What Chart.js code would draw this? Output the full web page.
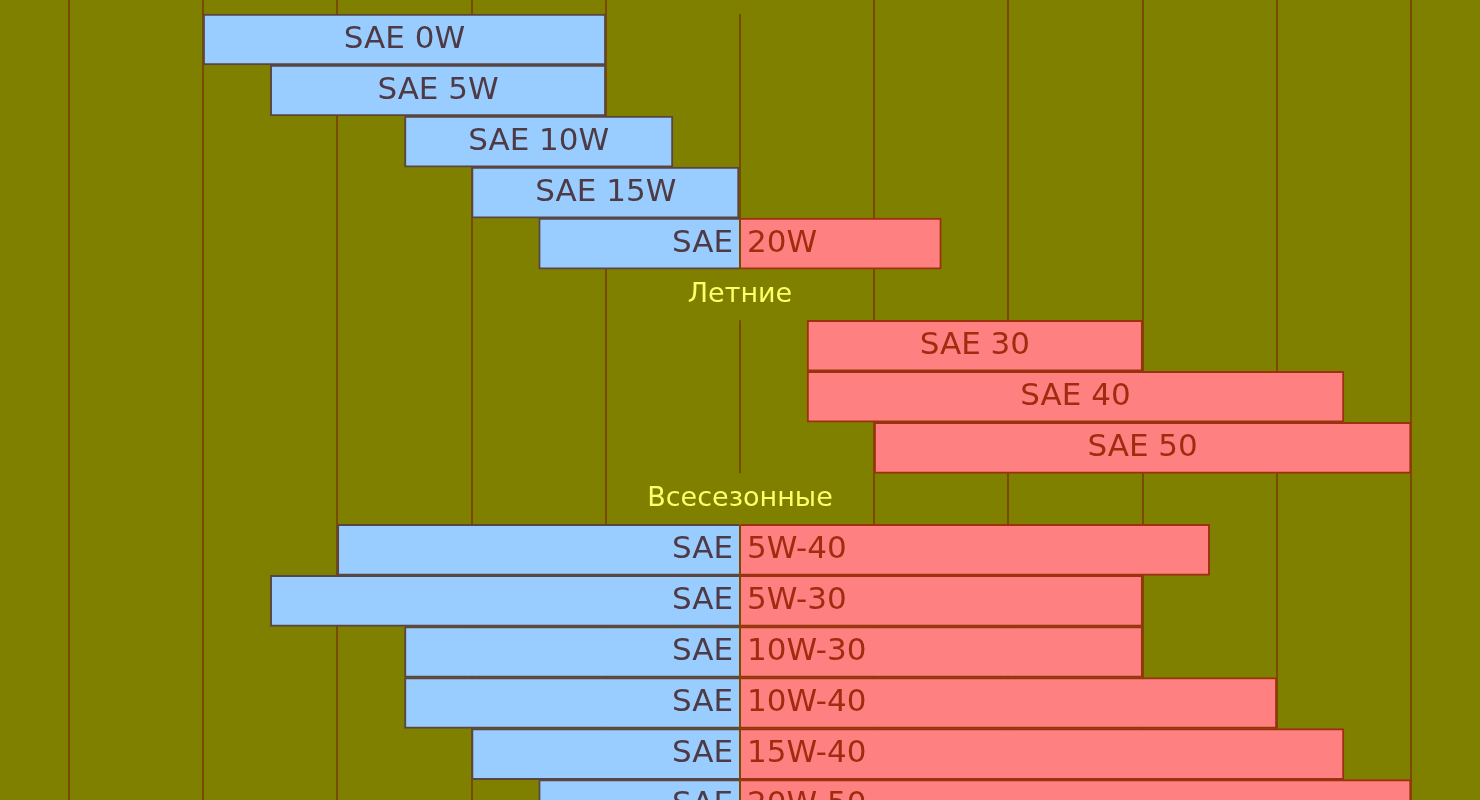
<!DOCTYPE html>
<html>
<head>
<meta charset="utf-8">
<script src="https://cdn.jsdelivr.net/npm/chart.js@4"></script>
<style>
  html, body { margin: 0; padding: 0; background: #808000; }
  #wrap { width: 1480px; height: 800px; }
</style>
</head>
<body>
<div id="wrap"><canvas id="oilChart" width="1480" height="800"></canvas></div>
<script>
// ---- данные (шаг сетки = 5 °C, 0 в центре) ----
var groups    = ['Зимние', 'Летние', 'Всесезонные'];
var groupRows = [0, 6, 10];

var grades    = ['0W', '5W', '10W', '15W', '20W', '30', '40', '50',
                 '5W-40', '5W-30', '10W-30', '10W-40', '15W-40', '20W-50'];
var gradeRows = [1, 2, 3, 4, 5, 7, 8, 9, 11, 12, 13, 14, 15, 16];

var coldLow   = [-20, -17.5, -12.5, -10, -7.5, null, null, null, -15, -17.5, -12.5, -12.5, -10, -7.5];
var coldHigh  = [-5,  -5,    -2.5,  0,   0,    null, null, null, 0,   0,     0,     0,     0,   0];
var warmLow   = [null, null, null, null, 0,   2.5, 2.5, 5,  0,    0,  0,  0,  0,    0];
var warmHigh  = [null, null, null, null, 7.5, 15,  22.5, 25, 17.5, 15, 15, 20, 22.5, 25];

var xTicks = [-25, -20, -15, -10, -5, 0, 5, 10, 15, 20, 25];

var prefix = 'SAE';
var FONT = '"Comic Sans MS", "DejaVu Sans", sans-serif';

function isSplit(i) {
    return coldHigh[i] === 0 && warmLow[i] === 0;
}

var coldData = [], warmData = [];
grades.forEach(function (g, i) {
    if (coldLow[i] !== null) coldData.push({ x: [coldLow[i], coldHigh[i]], y: gradeRows[i], i: i });
    if (warmLow[i] !== null) warmData.push({ x: [warmLow[i], warmHigh[i]], y: gradeRows[i], i: i });
});

// у составных полос убираем рамку со стороны нуля (base = 0)
function skipAtZero(c) {
    var d = c.raw;
    return d && isSplit(d.i) ? 'start' : false;
}

// центральная линия (0) с разрывами в строках заголовков + подписи
var labelsPlugin = {
    id: 'oilLabels',
    beforeDatasetsDraw: function (chart) {
        var c = chart.ctx, xs = chart.scales.x, ys = chart.scales.y;
        var x0 = xs.getPixelForValue(0);
        var pitch = Math.abs(ys.getPixelForValue(1) - ys.getPixelForValue(0));
        var top = chart.chartArea.top, bottom = chart.chartArea.bottom;
        var cuts = groupRows.map(function (r) { return ys.getPixelForValue(r); }).sort(function (a, b) { return a - b; });
        c.save();
        c.strokeStyle = '#7a4a00';
        c.lineWidth = 2;
        var y = top;
        cuts.forEach(function (cy) {
            var a = cy - pitch / 2, b = cy + pitch / 2;
            if (a > y) { c.beginPath(); c.moveTo(x0, y); c.lineTo(x0, a); c.stroke(); }
            y = Math.max(y, b);
        });
        if (y < bottom) { c.beginPath(); c.moveTo(x0, y); c.lineTo(x0, bottom); c.stroke(); }
        c.restore();
    },
    afterDatasetsDraw: function (chart) {
        var c = chart.ctx, xs = chart.scales.x, ys = chart.scales.y;
        var x0 = xs.getPixelForValue(0);
        c.save();
        c.textBaseline = 'middle';
        c.font = '31px ' + FONT;
        grades.forEach(function (g, i) {
            var y = ys.getPixelForValue(gradeRows[i]);
            if (isSplit(i)) {
                c.textAlign = 'right';
                c.fillStyle = '#4e3a44';
                c.fillText(prefix, x0 - 7, y);
                c.textAlign = 'left';
                c.fillStyle = '#a02c10';
                c.fillText(g, x0 + 7, y);
            } else {
                var lo = coldLow[i] !== null ? coldLow[i] : warmLow[i];
                var hi = coldLow[i] !== null ? coldHigh[i] : warmHigh[i];
                var xm = (xs.getPixelForValue(lo) + xs.getPixelForValue(hi)) / 2;
                c.textAlign = 'center';
                c.fillStyle = coldLow[i] !== null ? '#4e3a44' : '#a02c10';
                c.fillText(prefix + ' ' + g, xm, y);
            }
        });
        c.font = '27px ' + FONT;
        c.fillStyle = '#ffff66';
        c.textAlign = 'center';
        groups.forEach(function (t, k) {
            c.fillText(t, x0, ys.getPixelForValue(groupRows[k]));
        });
        c.restore();
    }
};

var ctx = document.getElementById('oilChart').getContext('2d');
var chart = new Chart(ctx, {
    type: 'bar',
    data: {
        datasets: [
            {
                label: 'cold',
                data: coldData,
                backgroundColor: '#99ccff',
                borderColor: '#5a4640',
                borderWidth: 2,
                borderSkipped: skipAtZero,
                barThickness: 51,
                grouped: false
            },
            {
                label: 'warm',
                data: warmData,
                backgroundColor: '#ff8080',
                borderColor: '#9a3210',
                borderWidth: 2,
                borderSkipped: skipAtZero,
                barThickness: 51,
                grouped: false
            }
        ]
    },
    options: {
        indexAxis: 'y',
        responsive: false,
        animation: false,
        layout: { padding: 0 },
        plugins: {
            legend: { display: false },
            tooltip: { enabled: false }
        },
        scales: {
            x: {
                type: 'linear',
                min: -27.57,
                max: 27.57,
                afterBuildTicks: function (scale) {
                    scale.ticks = xTicks.map(function (v) { return { value: v }; });
                },
                ticks: { display: false },
                border: { display: false },
                grid: {
                    drawTicks: false,
                    lineWidth: 2,
                    color: function (c) {
                        return c.tick && c.tick.value === 0 ? 'rgba(0,0,0,0)' : '#7a4a00';
                    }
                }
            },
            y: {
                type: 'linear',
                reverse: true,
                offset: false,
                min: 0.226,
                max: 15.90,
                display: false
            }
        }
    },
    plugins: [labelsPlugin]
});
</script>
</body>
</html>
